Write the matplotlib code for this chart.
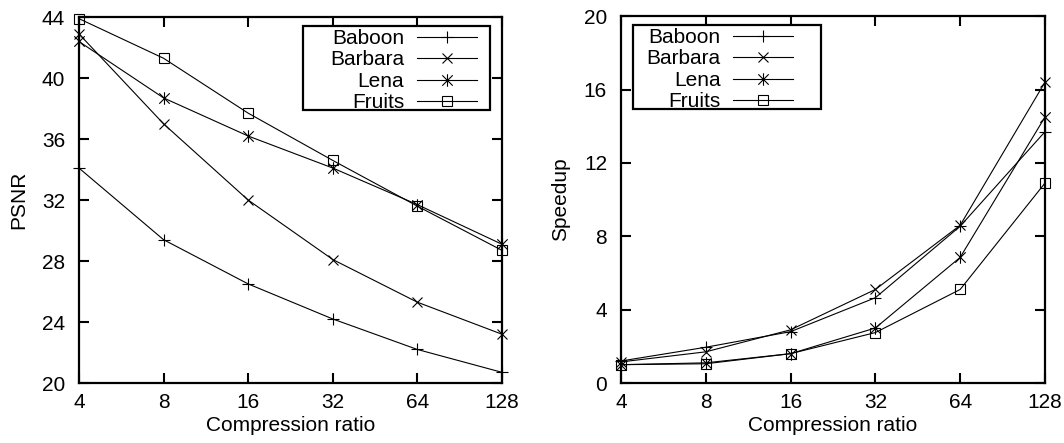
import matplotlib
matplotlib.use("Agg")
import matplotlib.pyplot as plt
from matplotlib.path import Path
from matplotlib.patches import Rectangle

# compression ratios on the x axis
ratios = [4, 8, 16, 32, 64, 128]
ratio_labels = ["4", "8", "16", "32", "64", "128"]

# PSNR values per image
psnr_baboon = [34.1, 29.4, 26.5, 24.2, 22.2, 20.7]
psnr_barbara = [42.9, 37.0, 32.0, 28.1, 25.3, 23.2]
psnr_lena = [42.4, 38.7, 36.2, 34.1, 31.7, 29.1]
psnr_fruits = [43.9, 41.3, 37.7, 34.6, 31.6, 28.7]

# speedup values per image
speed_baboon = [1.2, 1.95, 2.8, 4.65, 8.55, 13.7]
speed_barbara = [1.15, 1.7, 2.9, 5.1, 8.6, 16.4]
speed_lena = [1.0, 1.1, 1.6, 3.0, 6.85, 14.5]
speed_fruits = [1.0, 1.05, 1.6, 2.75, 5.1, 10.9]

names = ["Baboon", "Barbara", "Lena", "Fruits"]

# gnuplot-like star: an x with a vertical bar through it
star = Path([(-1, -1), (1, 1), (-1, 1), (1, -1), (0, -1.2), (0, 1.2)],
            [Path.MOVETO, Path.LINETO, Path.MOVETO, Path.LINETO,
             Path.MOVETO, Path.LINETO])

styles = [
    dict(marker="+", markersize=9),
    dict(marker="x", markersize=7),
    dict(marker=star, markersize=9),
    dict(marker="s", markersize=7, markerfacecolor="none"),
]

FS = 15
plt.rcParams["font.family"] = ["Liberation Sans", "DejaVu Sans"]
plt.rcParams["font.size"] = FS


def style_axes(ax, ylabel, yticks):
    ax.set_xscale("log", base=2)
    ax.set_xticks(ratios)
    ax.set_xticklabels(ratio_labels)
    ax.minorticks_off()
    ax.set_xlim(ratios[0], ratios[-1])
    ax.set_yticks(yticks)
    ax.set_ylim(yticks[0], yticks[-1])
    ax.tick_params(direction="in", length=7, width=1.5, top=True, right=True,
                   labelsize=FS)
    ax.tick_params(axis="y", pad=10)
    ax.tick_params(axis="x", pad=7)
    for sp in ax.spines.values():
        sp.set_linewidth(1.6)
    ax.set_xlabel("Compression ratio", fontsize=FS, labelpad=3)
    ax.set_ylabel(ylabel, fontsize=FS, labelpad=10)


def add_legend(ax, loc, anchor, box):
    # gnuplot-style key: labels right-aligned, sample on the right
    ax.legend(loc=loc, bbox_to_anchor=anchor, markerfirst=False, frameon=False,
              handlelength=2.9, handletextpad=0.6, labelspacing=0.12,
              borderpad=0, borderaxespad=0, fontsize=FS, numpoints=1)
    ax.add_patch(Rectangle(box[:2], box[2], box[3], transform=ax.transAxes,
                           fill=False, edgecolor="black", linewidth=1.6,
                           zorder=5, clip_on=False))


def main():
    fig = plt.figure(figsize=(10.64, 4.43), dpi=100)
    ax1 = fig.add_axes([0.0742, 0.1354, 0.3976, 0.826])
    ax2 = fig.add_axes([0.5836, 0.1354, 0.3985, 0.828])

    for ys, name, st in zip([psnr_baboon, psnr_barbara, psnr_lena, psnr_fruits], names, styles):
        ax1.plot(ratios, ys, color="black", linewidth=0.8, label=name,
                 markeredgewidth=0.8, clip_on=False, **st)
    for ys, name, st in zip([speed_baboon, speed_barbara, speed_lena, speed_fruits], names, styles):
        ax2.plot(ratios, ys, color="black", linewidth=0.8, label=name,
                 markeredgewidth=0.8, clip_on=False, **st)

    style_axes(ax1, "PSNR", [20, 24, 28, 32, 36, 40, 44])
    style_axes(ax2, "Speedup", [0, 4, 8, 12, 16, 20])

    add_legend(ax1, "upper right", (0.941, 0.968), (0.530, 0.746, 0.442, 0.229))
    add_legend(ax2, "upper left", (0.060, 0.968), (0.028, 0.746, 0.444, 0.229))

    fig.savefig("out.png", dpi=100)
    plt.close(fig)


if __name__ == "__main__":
    main()
